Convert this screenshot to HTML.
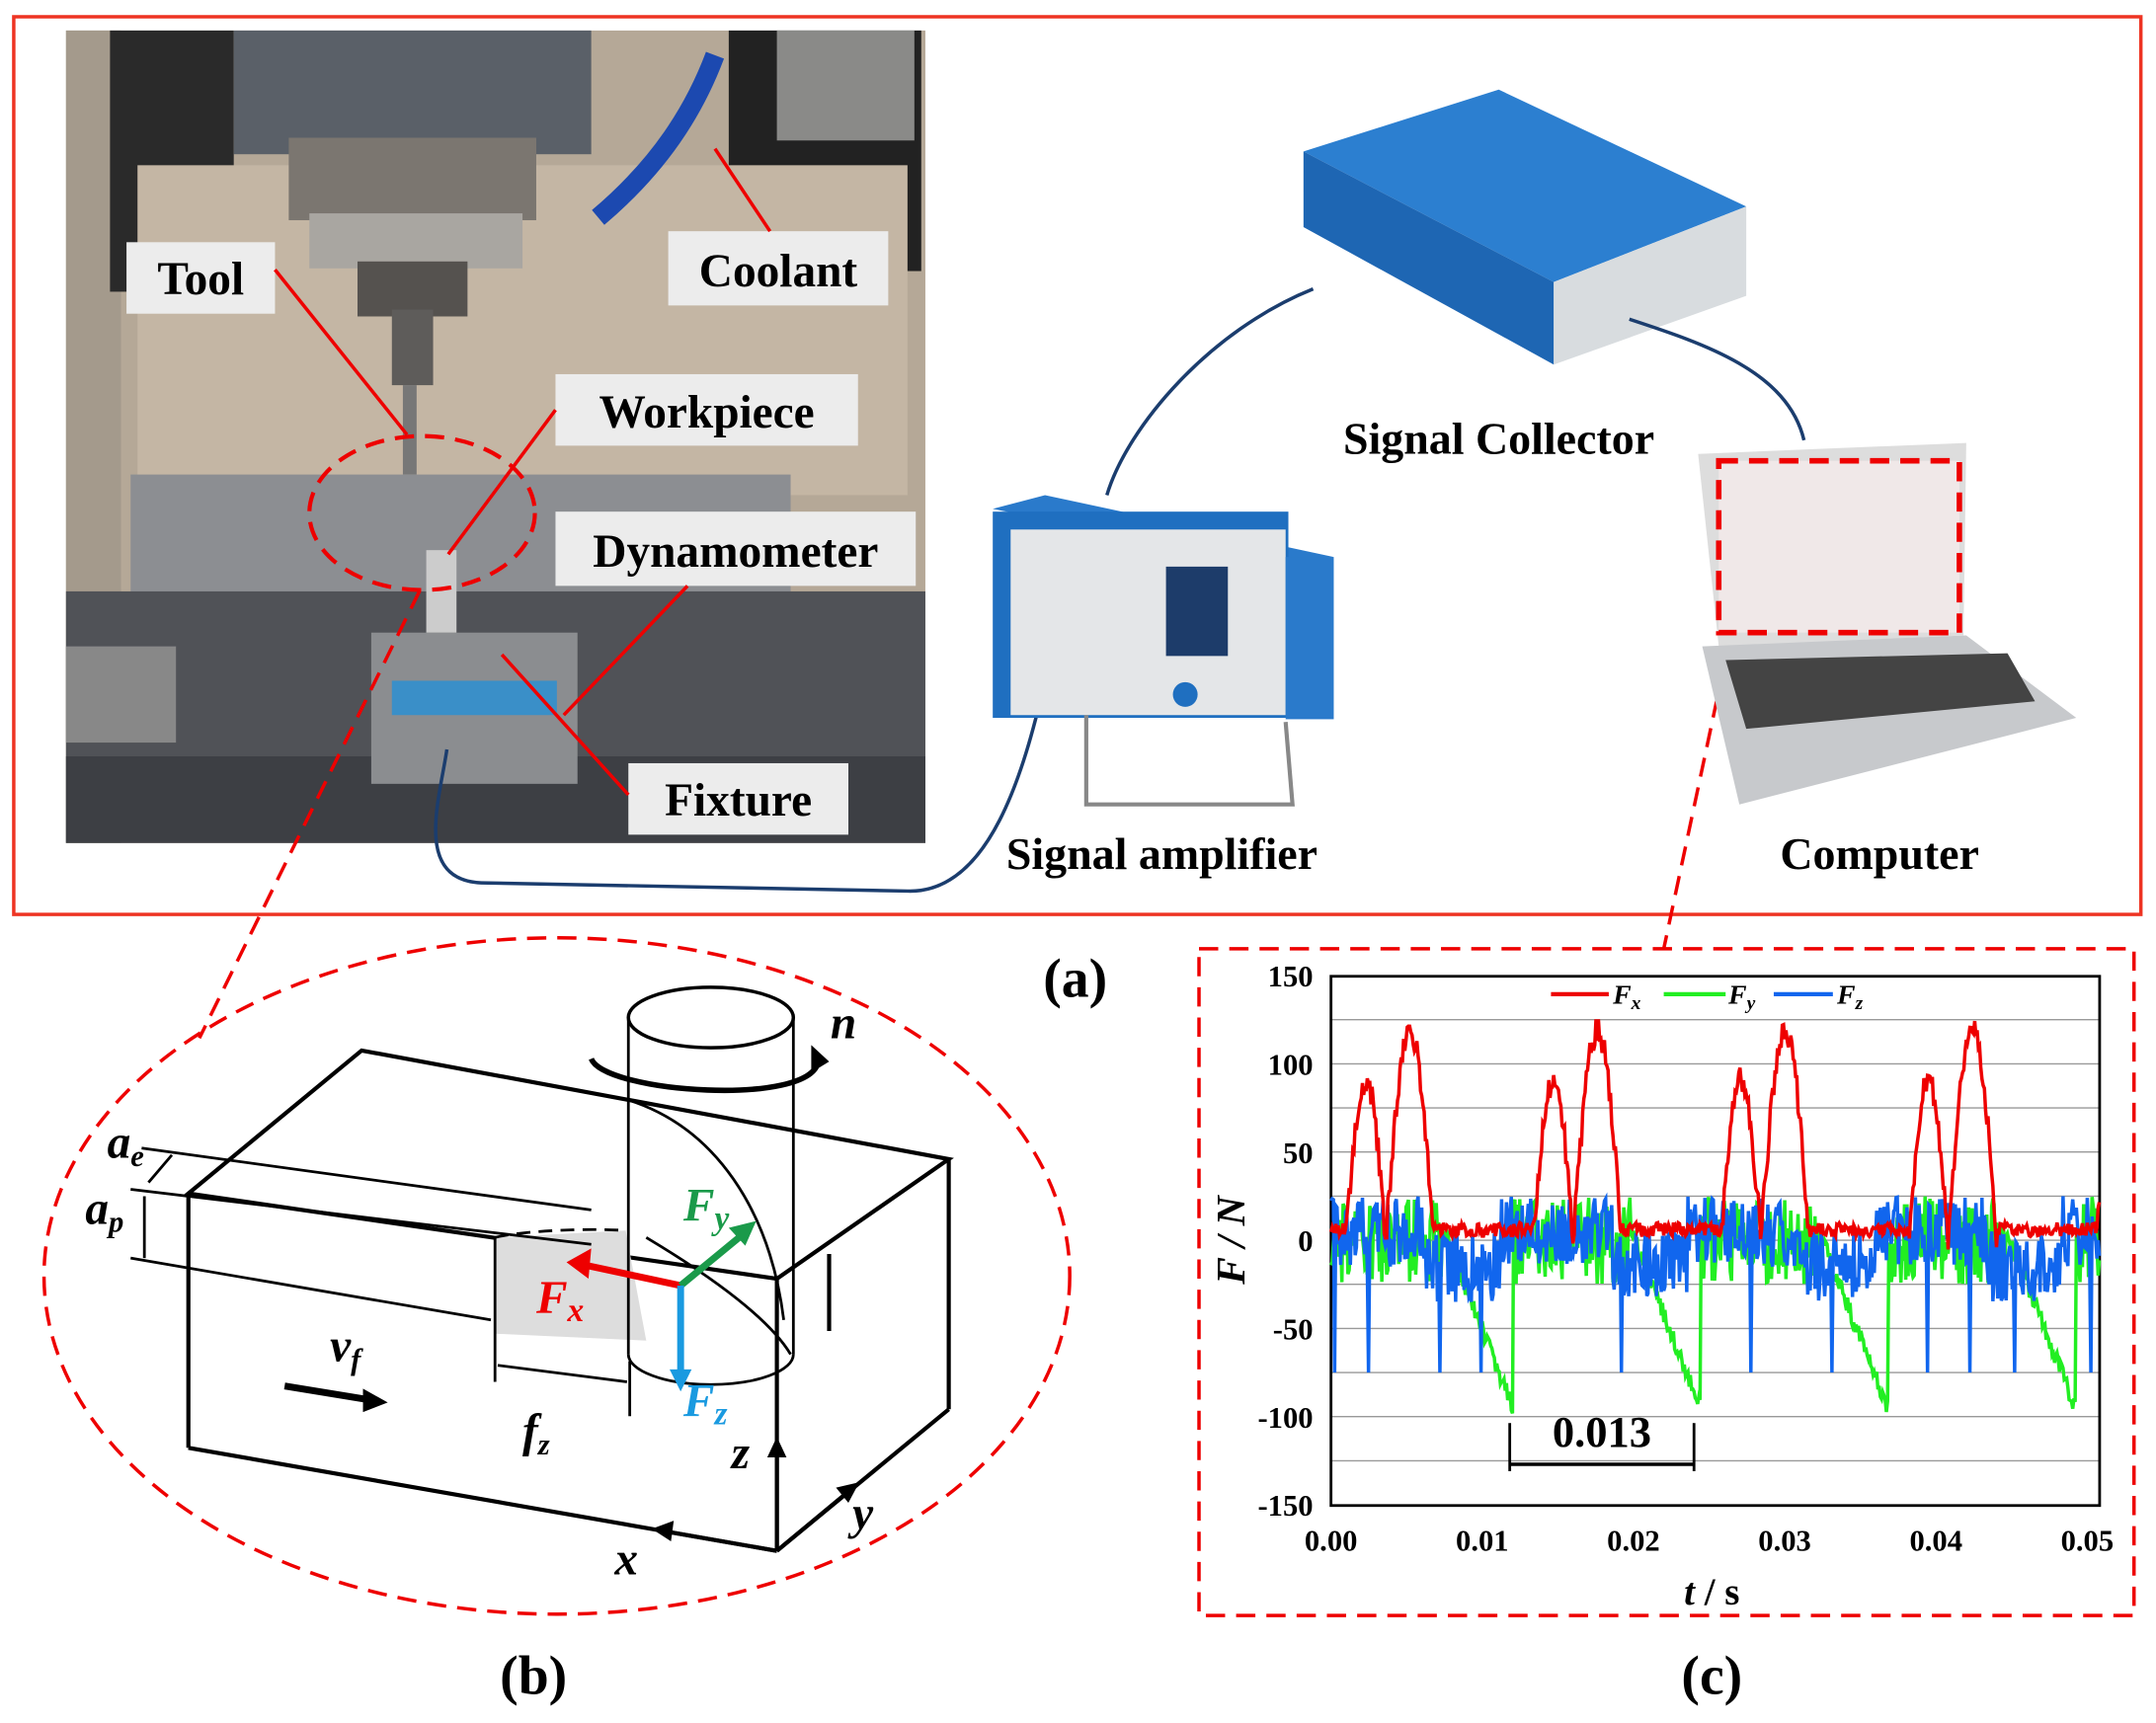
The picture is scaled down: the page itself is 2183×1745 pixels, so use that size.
<!DOCTYPE html>
<html><head><meta charset="utf-8"><style>
html,body{margin:0;padding:0;background:#fff;}
svg{display:block;}
text{font-family:"Liberation Serif",serif;font-weight:bold;}
</style></head><body>
<svg id="s" width="2183" height="1745" viewBox="0 0 1568 1253" xmlns="http://www.w3.org/2000/svg">
<rect x="10" y="12" width="1547" height="653" fill="none" stroke="#e32" stroke-width="2.5"/>
<rect x="48" y="22" width="625" height="591" fill="#b5a897"/>
<rect x="48" y="22" width="40" height="591" fill="#a49a8c"/>
<rect x="80" y="22" width="90" height="190" fill="#2a2a2a"/>
<rect x="530" y="22" width="140" height="175" fill="#222"/>
<rect x="565" y="22" width="100" height="80" fill="#8a8a88"/>
<rect x="100" y="120" width="560" height="240" fill="#c4b6a4"/>
<rect x="170" y="22" width="260" height="90" fill="#5a6068"/>
<rect x="210" y="100" width="180" height="60" fill="#7b7670"/>
<rect x="225" y="155" width="155" height="40" fill="#a9a6a1"/>
<rect x="260" y="190" width="80" height="40" fill="#55524f"/>
<rect x="285" y="225" width="30" height="55" fill="#5e5c5a"/>
<rect x="293" y="280" width="10" height="65" fill="#777"/>
<rect x="95" y="345" width="480" height="120" fill="#8c8e92"/>
<rect x="48" y="430" width="625" height="183" fill="#505257"/>
<rect x="48" y="550" width="625" height="63" fill="#3d3f44"/>
<rect x="270" y="460" width="150" height="110" fill="#8b8d90"/>
<rect x="285" y="495" width="120" height="25" fill="#3a8fc8"/>
<rect x="310" y="400" width="22" height="60" fill="#ccc"/>
<rect x="48" y="470" width="80" height="70" fill="#888"/>
<path d="M520 40 C 505 80 480 120 435 158" stroke="#1c49b0" stroke-width="14" fill="none"/>
<path d="M325 545 C 320 580 300 640 350 642 L 660 648 C 720 650 745 560 760 495" stroke="#1b3d6e" stroke-width="2.5" fill="none"/>
<g font-size="34">
<rect x="92" y="176" width="108" height="52" fill="#ececec"/><text x="146" y="214" text-anchor="middle">Tool</text>
<rect x="486" y="168" width="160" height="54" fill="#ececec"/><text x="566" y="208" text-anchor="middle">Coolant</text>
<rect x="404" y="272" width="220" height="52" fill="#ececec"/><text x="514" y="311" text-anchor="middle">Workpiece</text>
<rect x="404" y="372" width="262" height="54" fill="#ececec"/><text x="535" y="412" text-anchor="middle">Dynamometer</text>
<rect x="457" y="555" width="160" height="52" fill="#ececec"/><text x="537" y="593" text-anchor="middle">Fixture</text>
</g>
<g stroke="#e00" stroke-width="2.5" fill="none">
<line x1="200" y1="196" x2="296" y2="316"/>
<line x1="520" y1="108" x2="560" y2="168"/>
<line x1="404" y1="298" x2="326" y2="403"/>
<line x1="500" y1="426" x2="410" y2="520"/>
<line x1="457" y1="578" x2="365" y2="476"/>
<ellipse cx="307" cy="373" rx="82" ry="56" stroke-dasharray="14,8" stroke-width="3"/>
<line x1="305" y1="430" x2="145" y2="755" stroke-dasharray="14,8" stroke-width="2.5"/>
<line x1="1258" y1="465" x2="1210" y2="690" stroke-dasharray="14,8" stroke-width="2.5"/>
</g>
<polygon points="948,110 1090,65 1270,150 1130,205" fill="#2c7fd0"/>
<polygon points="948,110 1130,205 1130,265 948,165" fill="#1e66b3"/>
<polygon points="1130,205 1270,150 1270,215 1130,265" fill="#d8dcdf"/>
<path d="M955 210 C 880 240 820 310 805 360" stroke="#1b3d6e" stroke-width="2.5" fill="none"/>
<path d="M1185 232 C 1240 250 1300 270 1312 320" stroke="#1b3d6e" stroke-width="2.5" fill="none"/>
<polygon points="722,370 760,360 970,405 935,412" fill="#2a7acb"/>
<rect x="722" y="372" width="215" height="150" fill="#1f6fc0"/>
<rect x="735" y="385" width="200" height="135" fill="#e4e6e8"/>
<rect x="935" y="405" width="35" height="118" fill="#2a7acb"/>
<rect x="848" y="412" width="45" height="65" fill="#1d3c6a"/>
<circle cx="862" cy="505" r="9" fill="#1f6fc0"/>
<path d="M790 520 L790 585 L940 585 L935 525" stroke="#888" stroke-width="3" fill="none"/>
<polygon points="1235,330 1430,322 1428,462 1250,470" fill="#ddd"/>
<polygon points="1238,470 1430,462 1510,522 1265,585" fill="#c7c9cc"/>
<polygon points="1255,480 1460,475 1480,510 1270,530" fill="#444"/>
<rect x="1250" y="335" width="175" height="125" fill="#f0e8e8" stroke="#e00" stroke-width="4" stroke-dasharray="14,8"/>
<g font-size="33">
<text x="1090" y="330" text-anchor="middle">Signal Collector</text>
<text x="845" y="632" text-anchor="middle">Signal amplifier</text>
<text x="1367" y="632" text-anchor="middle">Computer</text>
<text x="782" y="725" text-anchor="middle" font-size="40">(a)</text>
<text x="388" y="1232" text-anchor="middle" font-size="40">(b)</text>
<text x="1245" y="1232" text-anchor="middle" font-size="40">(c)</text>
</g>
<ellipse cx="405" cy="928" rx="373" ry="246" fill="none" stroke="#e00" stroke-width="2.5" stroke-dasharray="14,8"/>
<g stroke="#000" stroke-width="3" fill="none">
<polygon points="137,868 263,764 690,843 565,930"/>
<line x1="137" y1="868" x2="137" y2="1053"/>
<line x1="565" y1="930" x2="565" y2="1128"/>
<line x1="690" y1="843" x2="690" y2="1025"/>
<line x1="137" y1="1053" x2="565" y2="1128"/>
<line x1="565" y1="1128" x2="690" y2="1025"/>
<line x1="603" y1="912" x2="603" y2="968"/>
</g>
<path d="M360 900 L455 895 L470 975 L360 970Z" fill="#ddd"/>
<ellipse cx="517" cy="740" rx="60" ry="22" fill="#fff" stroke="#000" stroke-width="2.5"/>
<g stroke="#000" stroke-width="2" fill="none">
<line x1="457" y1="740" x2="457" y2="985"/>
<line x1="577" y1="740" x2="577" y2="985"/>
<path d="M457 985 A60 22 0 0 0 577 985"/>
<path d="M457 800 C 520 820 560 880 570 960"/>
<path d="M470 900 C 520 930 560 960 575 985"/>
<path d="M360 900 C 380 895 430 893 455 895" stroke-dasharray="10,6"/>
<line x1="360" y1="900" x2="360" y2="1005"/><line x1="458" y1="990" x2="458" y2="1030"/>
<line x1="103" y1="835" x2="430" y2="880"/><line x1="95" y1="865" x2="430" y2="905"/>
<line x1="95" y1="915" x2="357" y2="960"/>
</g>
<path d="M430 770 C 440 795 590 805 595 772" stroke="#000" stroke-width="4" fill="none"/>
<polygon points="590,760 603,772 590,780" fill="#000"/>
<line x1="495" y1="935" x2="425" y2="920" stroke="#e00" stroke-width="5"/><polygon points="412,918 430,908 428,930" fill="#e00"/>
<line x1="495" y1="935" x2="540" y2="898" stroke="#1a9a4a" stroke-width="5"/><polygon points="550,888 530,893 542,906" fill="#1a9a4a"/>
<line x1="495" y1="935" x2="495" y2="1000" stroke="#1a9ae0" stroke-width="5"/><polygon points="487,996 503,996 495,1012" fill="#1a9ae0"/>
<line x1="207" y1="1008" x2="268" y2="1018" stroke="#000" stroke-width="5"/><polygon points="282,1020 264,1010 264,1027" fill="#000"/>
<line x1="565" y1="1128" x2="565" y2="1055" stroke="#000" stroke-width="3"/><polygon points="558,1060 572,1060 565,1045" fill="#000"/>
<line x1="565" y1="1128" x2="618" y2="1084" stroke="#000" stroke-width="3"/><polygon points="625,1078 608,1082 617,1093" fill="#000"/>
<line x1="565" y1="1128" x2="485" y2="1114" stroke="#000" stroke-width="3"/><polygon points="474,1112 490,1106 488,1121" fill="#000"/>
<line x1="362" y1="993" x2="456" y2="1005" stroke="#000" stroke-width="2"/>
<line x1="108" y1="860" x2="125" y2="840" stroke="#000" stroke-width="2"/>
<line x1="105" y1="870" x2="105" y2="915" stroke="#000" stroke-width="2"/>
<g font-style="italic" font-size="34">
<text x="78" y="842">a<tspan font-size="22" dy="6">e</tspan></text>
<text x="62" y="890">a<tspan font-size="22" dy="6">p</tspan></text>
<text x="240" y="990">v<tspan font-size="22" dy="6">f</tspan></text>
<text x="380" y="1052">f<tspan font-size="22" dy="6">z</tspan></text>
<text x="390" y="955" fill="#e00">F<tspan font-size="24" dy="6">x</tspan></text>
<text x="497" y="888" fill="#1a9a4a">F<tspan font-size="24" dy="6">y</tspan></text>
<text x="497" y="1030" fill="#1a9ae0">F<tspan font-size="24" dy="6">z</tspan></text>
<text x="604" y="755">n</text>
<text x="532" y="1068">z</text><text x="620" y="1112">y</text><text x="447" y="1145">x</text>
</g>
<rect x="872" y="690" width="680" height="485" fill="none" stroke="#e00" stroke-width="2.5" stroke-dasharray="14,8"/>
<g id="grid" stroke="#999" stroke-width="1"></g>
<rect x="968" y="710" width="559" height="385" fill="none" stroke="#000" stroke-width="2"/>
<g id="curves" fill="none" stroke-width="2.5"></g>
<g font-size="22" text-anchor="end" id="yl"></g>
<g font-size="22" text-anchor="middle" id="xl"></g>
<text x="905" y="902" font-size="30" font-style="italic" text-anchor="middle" transform="rotate(-90 905 902)">F / N</text>
<text x="1245" y="1167" font-size="28" text-anchor="middle"><tspan font-style="italic">t</tspan> / s</text>
<line x1="1098" y1="1065" x2="1232" y2="1065" stroke="#000" stroke-width="2.5"/>
<line x1="1098" y1="1035" x2="1098" y2="1070" stroke="#000" stroke-width="2"/>
<line x1="1232" y1="1035" x2="1232" y2="1070" stroke="#000" stroke-width="2"/>
<text x="1165" y="1052" font-size="32" text-anchor="middle">0.013</text>
<g font-size="20" font-style="italic">
<line x1="1128" y1="723" x2="1170" y2="723" stroke="#e00" stroke-width="3"/><text x="1173" y="730">F<tspan font-size="14" dy="4">x</tspan></text>
<line x1="1210" y1="723" x2="1255" y2="723" stroke="#2e2" stroke-width="3"/><text x="1257" y="730">F<tspan font-size="14" dy="4">y</tspan></text>
<line x1="1290" y1="723" x2="1333" y2="723" stroke="#16e" stroke-width="3"/><text x="1336" y="730">F<tspan font-size="14" dy="4">z</tspan></text>
</g>
</svg>
<script>
var NS="http://www.w3.org/2000/svg";
function el(p,t,a,txt){var e=document.createElementNS(NS,t);for(var k in a)e.setAttribute(k,a[k]);if(txt!=null)e.textContent=txt;document.getElementById(p).appendChild(e);}
function Y(v){return 902-v*1.2833;}
function X(t){return 968+t*11000;}
for(var v=-125;v<=125;v+=25){el("grid","line",{x1:968,x2:1527,y1:Y(v),y2:Y(v)});}
for(var v=-150;v<=150;v+=50){el("yl","text",{x:955,y:Y(v)+8},String(v));}
for(var i=0;i<=5;i++){el("xl","text",{x:X(i*0.01),y:1128},"0.0"+i);}
var seed=3;function r(){seed=(seed*9301+49297)%233280;return seed/233280;}
var P=0.0124;var fx="",fy="",fz="";
for(var t=0;t<=0.0508;t+=0.00008){
 var ph=(t%P)/P, x=X(t);
 var a=2+r()*8;
 if(ph>0.08&&ph<0.55){var q=(ph-0.08)/0.47;a=q<0.45?Math.sin(q/0.45*Math.PI)*90:Math.sin((q-0.45)/0.55*Math.PI)*118;a+=r()*15-7;}
 var b=(r()*50-25);
 if(ph>0.6&&ph<0.97){var q=(ph-0.6)/0.37;b=-q*100+r()*10;}
 var c=(r()*40-20)+((ph>0.5&&ph<0.9)?-15:5);
 if(r()<0.02)c=-75;
 fx+=x+","+Y(a)+" ";fy+=x+","+Y(b)+" ";fz+=x+","+Y(c)+" ";
}
el("curves","polyline",{points:fy,stroke:"#2e2"});
el("curves","polyline",{points:fz,stroke:"#16e"});
el("curves","polyline",{points:fx,stroke:"#e00"});
</script>
</body></html>
